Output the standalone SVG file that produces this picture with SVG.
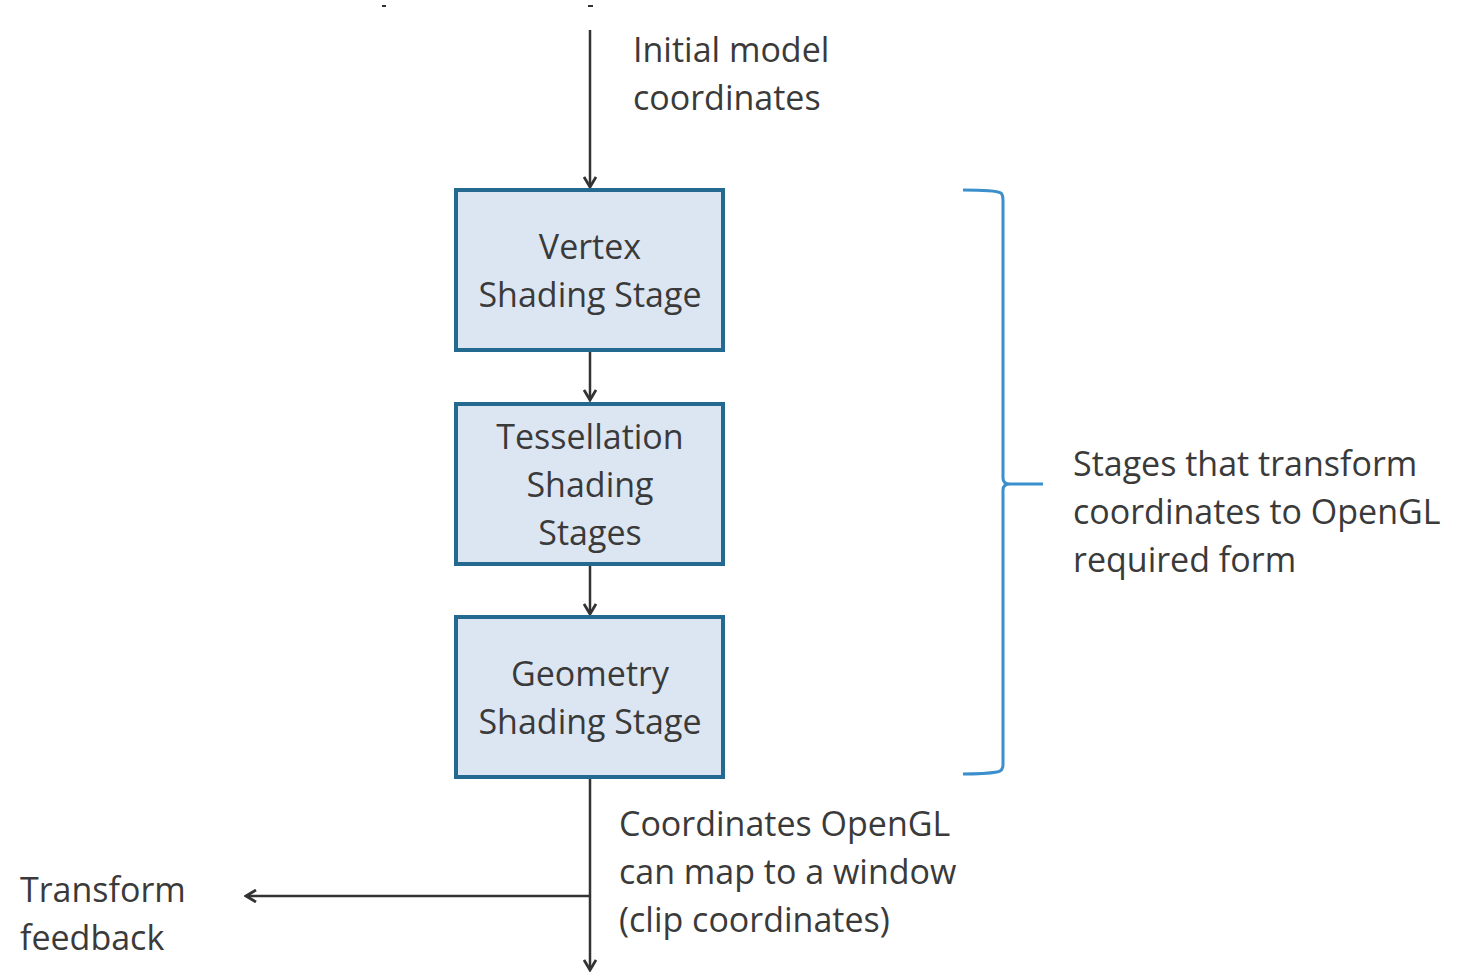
<svg xmlns="http://www.w3.org/2000/svg" width="1465" height="974" viewBox="0 0 1465 974">
<style>
.bg{fill:#ffffff}
.box{fill:#dce6f2;stroke:#24698f;stroke-width:4}
.t{font-family:"Open Sans","Liberation Sans",sans-serif;font-size:34px;fill:#3a3a3a}
.c{text-anchor:middle}
.ln{stroke:#333333;stroke-width:2.5;fill:none}
.brace{stroke:#3a8fcc;stroke-width:3;fill:none}
</style>
<defs>
<marker id="ah" viewBox="0 0 14 14" refX="12" refY="7" markerWidth="14" markerHeight="14" markerUnits="userSpaceOnUse" orient="auto">
<path d="M2,1 L12,7 L2,13" fill="none" stroke="#333333" stroke-width="2.8"/>
</marker>
</defs>
<rect class="bg" x="0" y="0" width="1465" height="974"/>
<g id="marks">
<rect x="382" y="5" width="4" height="2" fill="#333"/>
<rect x="588" y="5" width="5" height="2" fill="#333"/>
</g>
<g id="connectors">
<line class="ln" x1="590" y1="30" x2="590" y2="187" marker-end="url(#ah)"/>
<line class="ln" x1="590" y1="352" x2="590" y2="400" marker-end="url(#ah)"/>
<line class="ln" x1="590" y1="566" x2="590" y2="614" marker-end="url(#ah)"/>
<line class="ln" x1="590" y1="779" x2="590" y2="970" marker-end="url(#ah)"/>
<line class="ln" x1="590" y1="896" x2="246" y2="896" marker-end="url(#ah)"/>
</g>
<g id="vertex">
<rect class="box" x="456" y="190" width="267" height="160"/>
<text class="t c" x="590" y="259">Vertex</text>
<text class="t c" x="590" y="307">Shading Stage</text>
</g>
<g id="tessellation">
<rect class="box" x="456" y="404" width="267" height="160"/>
<text class="t c" x="590" y="449">Tessellation</text>
<text class="t c" x="590" y="497">Shading</text>
<text class="t c" x="590" y="545">Stages</text>
</g>
<g id="geometry">
<rect class="box" x="456" y="617" width="267" height="160"/>
<text class="t c" x="590" y="686">Geometry</text>
<text class="t c" x="590" y="734">Shading Stage</text>
</g>
<g id="brace">
<path class="brace" d="M963,190 Q995,190 1001,193 Q1003,195 1003,200 L1003,478 Q1003,484 1010,484 L1043,484 M1010,484 Q1003,484 1003,490 L1003,765 Q1003,771 997,772 Q985,774 963,774"/>
</g>
<g id="labels">
<text class="t" x="633" y="62">Initial model</text>
<text class="t" x="633" y="110">coordinates</text>
<text class="t" x="1073" y="476">Stages that transform</text>
<text class="t" x="1073" y="524">coordinates to OpenGL</text>
<text class="t" x="1073" y="572">required form</text>
<text class="t" x="619" y="836">Coordinates OpenGL</text>
<text class="t" x="619" y="884">can map to a window</text>
<text class="t" x="619" y="932">(clip coordinates)</text>
<text class="t" x="20" y="902">Transform</text>
<text class="t" x="20" y="950">feedback</text>
</g>
</svg>
